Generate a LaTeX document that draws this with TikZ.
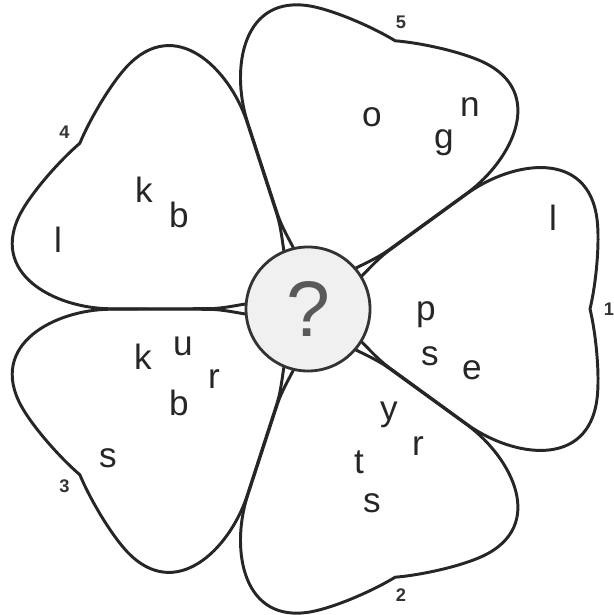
\documentclass[tikz,border=0pt]{standalone}
\usepackage{fontspec}
\setmainfont{Liberation Sans}

\tikzstyle{petal} = [draw=black!85, line width=2.1pt, line join=round]
\tikzstyle{letter} = [inner sep=0pt, text=black!85, font=\fontsize{25}{30}\selectfont]
\tikzstyle{num} = [inner sep=0pt, text=black!80, font=\fontsize{13}{15}\selectfont\bfseries]
\tikzstyle{hub} = [circle, draw=black!80, line width=2pt, fill=gray!12, minimum size=3.1cm, inner sep=0pt, text=black!65, font=\fontsize{56}{60}\selectfont]

\begin{document}
\begin{tikzpicture}[x=0.025cm, y=0.025cm]
\useasboundingbox (-308,-306) rectangle (305,309);

% petals
\foreach \a in {0,72,...,288}
    \draw[petal, rotate=\a] (0,0)
        .. controls (40,8) and (56,40.3) .. (81,58.5)
        -- (160,116)
        .. controls (205,148) and (280,160) .. (289,90)
        .. controls (292,66) and (288,25) .. (282,0)
        .. controls (288,-25) and (292,-66) .. (289,-90)
        .. controls (280,-160) and (205,-148) .. (160,-116)
        -- (81,-58.5)
        .. controls (56,-40.3) and (40,-8) .. (0,0) -- cycle;

% centre
\node[hub] (hub) at (0,0) {?};

% petal numbers
\foreach \i in {1,...,5}
    \node[num] (num\i) at ({-(\i-1)*72}:301) {\i};

% petal 1
\node[letter] (l1) at (245,91) {l};
\node[letter] (p1) at (118,-6) {p};
\node[letter] (s1) at (122,-47) {s};
\node[letter] (e1) at (164,-61) {e};
% petal 2
\node[letter] (y2) at (81,-106) {y};
\node[letter] (r2) at (110,-137) {r};
\node[letter] (t2) at (51,-153) {t};
\node[letter] (s2) at (64,-194) {s};
% petal 3
\node[letter] (k3) at (-165,-48) {k};
\node[letter] (u3) at (-125,-37) {u};
\node[letter] (r3) at (-94,-70) {r};
\node[letter] (b3) at (-129,-94) {b};
\node[letter] (s3) at (-200,-149) {s};
% petal 4
\node[letter] (k4) at (-164,119) {k};
\node[letter] (b4) at (-129,94) {b};
\node[letter] (l4) at (-250,69) {l};
% petal 5
\node[letter] (o5) at (64,192) {o};
\node[letter] (g5) at (136,166) {g};
\node[letter] (n5) at (162,202) {n};
\end{tikzpicture}
\end{document}
